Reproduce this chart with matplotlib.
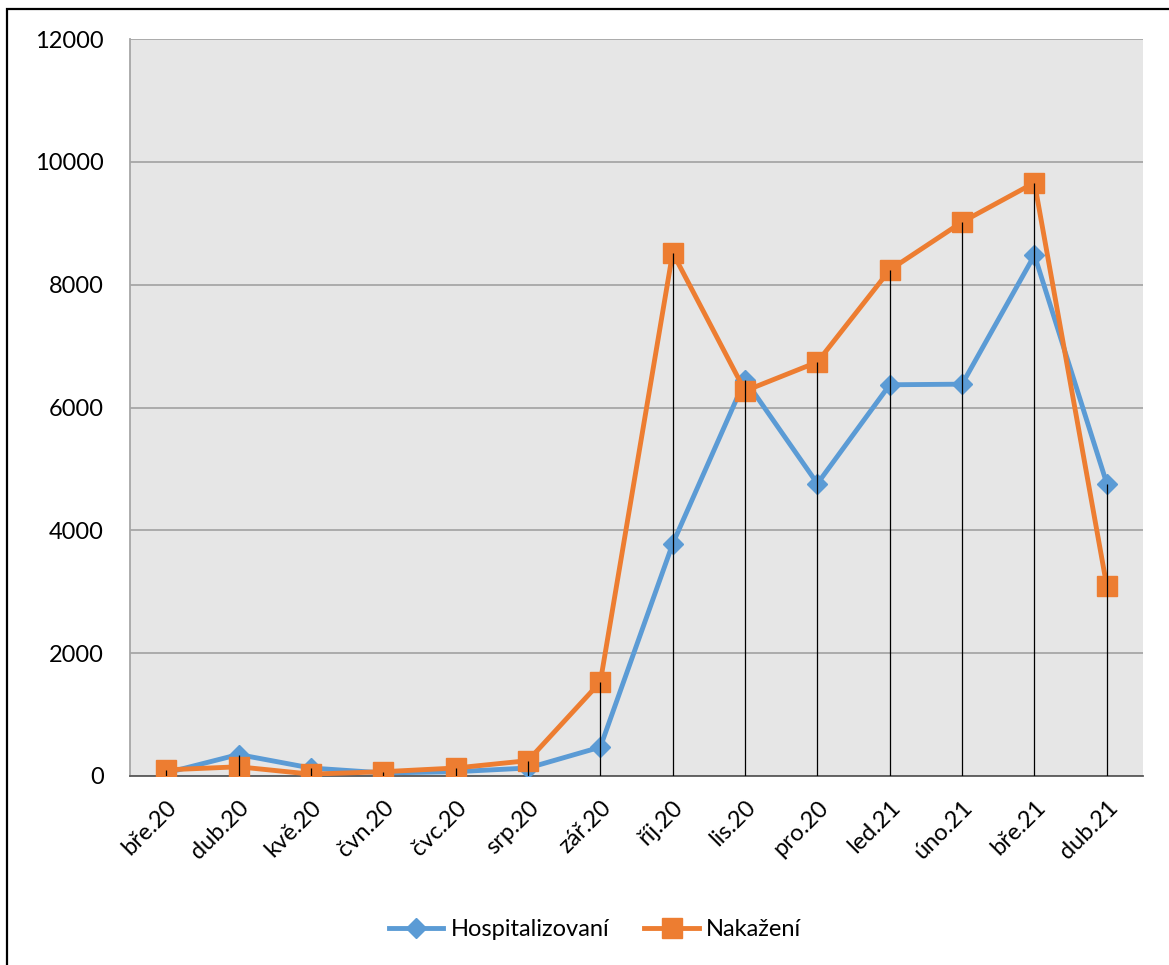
import numpy as np
import matplotlib.pyplot as plt
from matplotlib.patches import Rectangle

plt.rcParams['font.family'] = ['Lato', 'DejaVu Sans']

months = ["bře.20", "dub.20", "kvě.20", "čvn.20", "čvc.20", "srp.20", "zář.20",
          "říj.20", "lis.20", "pro.20", "led.21", "úno.21", "bře.21", "dub.21"]
hospitalizovani = [50, 350, 130, 50, 70, 130, 470, 3780, 6450, 4760, 6370, 6380, 8480, 4760]
nakazeni = [100, 150, 30, 70, 130, 250, 1530, 8520, 6270, 6740, 8240, 9020, 9660, 3090]

blue = "#5B9BD5"
orange = "#ED7D31"

fig = plt.figure(figsize=(11.69, 9.65), dpi=100)
ax = fig.add_axes([130 / 1169, 1 - 776 / 965, 1013 / 1169, 737 / 965])

x = np.arange(len(months))
ax.set_facecolor("#E6E6E6")
ax.set_ylim(0, 12000)
ax.set_xlim(-0.5, len(months) - 0.5)
ax.set_yticks(np.arange(0, 12001, 2000))
ax.yaxis.grid(True, color="#A6A6A6", linewidth=1.3)
ax.set_axisbelow(True)

ax.plot(x, hospitalizovani, color=blue, lw=3.5, marker="D", ms=10,
        label="Hospitalizovaní", zorder=3)
ax.plot(x, nakazeni, color=orange, lw=3.5, marker="s", ms=14,
        label="Nakažení", zorder=4)

# drop lines from the higher point down to the axis
top = np.maximum(hospitalizovani, nakazeni)
ax.vlines(x, 0, top, color="black", lw=0.9, zorder=5)

ax.set_xticks(x)
ax.set_xticklabels(months, rotation=45, ha="right", rotation_mode="anchor")
ax.tick_params(axis="both", length=0, labelsize=17, colors="black")
ax.tick_params(axis="x", pad=15)
ax.tick_params(axis="y", pad=19)

for s in ["top", "right"]:
    ax.spines[s].set_visible(False)
ax.spines["left"].set_color("#A6A6A6")
ax.spines["left"].set_linewidth(1.3)
ax.spines["bottom"].set_color("#595959")
ax.spines["bottom"].set_linewidth(1.3)

fig.legend(loc="center", bbox_to_anchor=(595 / 1169, 1 - 930 / 965), ncol=2,
           frameon=False, fontsize=17, handlelength=2.3, columnspacing=1.5,
           handletextpad=0.3)

fig.patches.append(Rectangle((7 / 1169, -0.1), 1.2, 1.1 - 9 / 965,
                             transform=fig.transFigure, fill=False,
                             edgecolor="black", lw=1.6))

fig.savefig("out.png", dpi=100)
